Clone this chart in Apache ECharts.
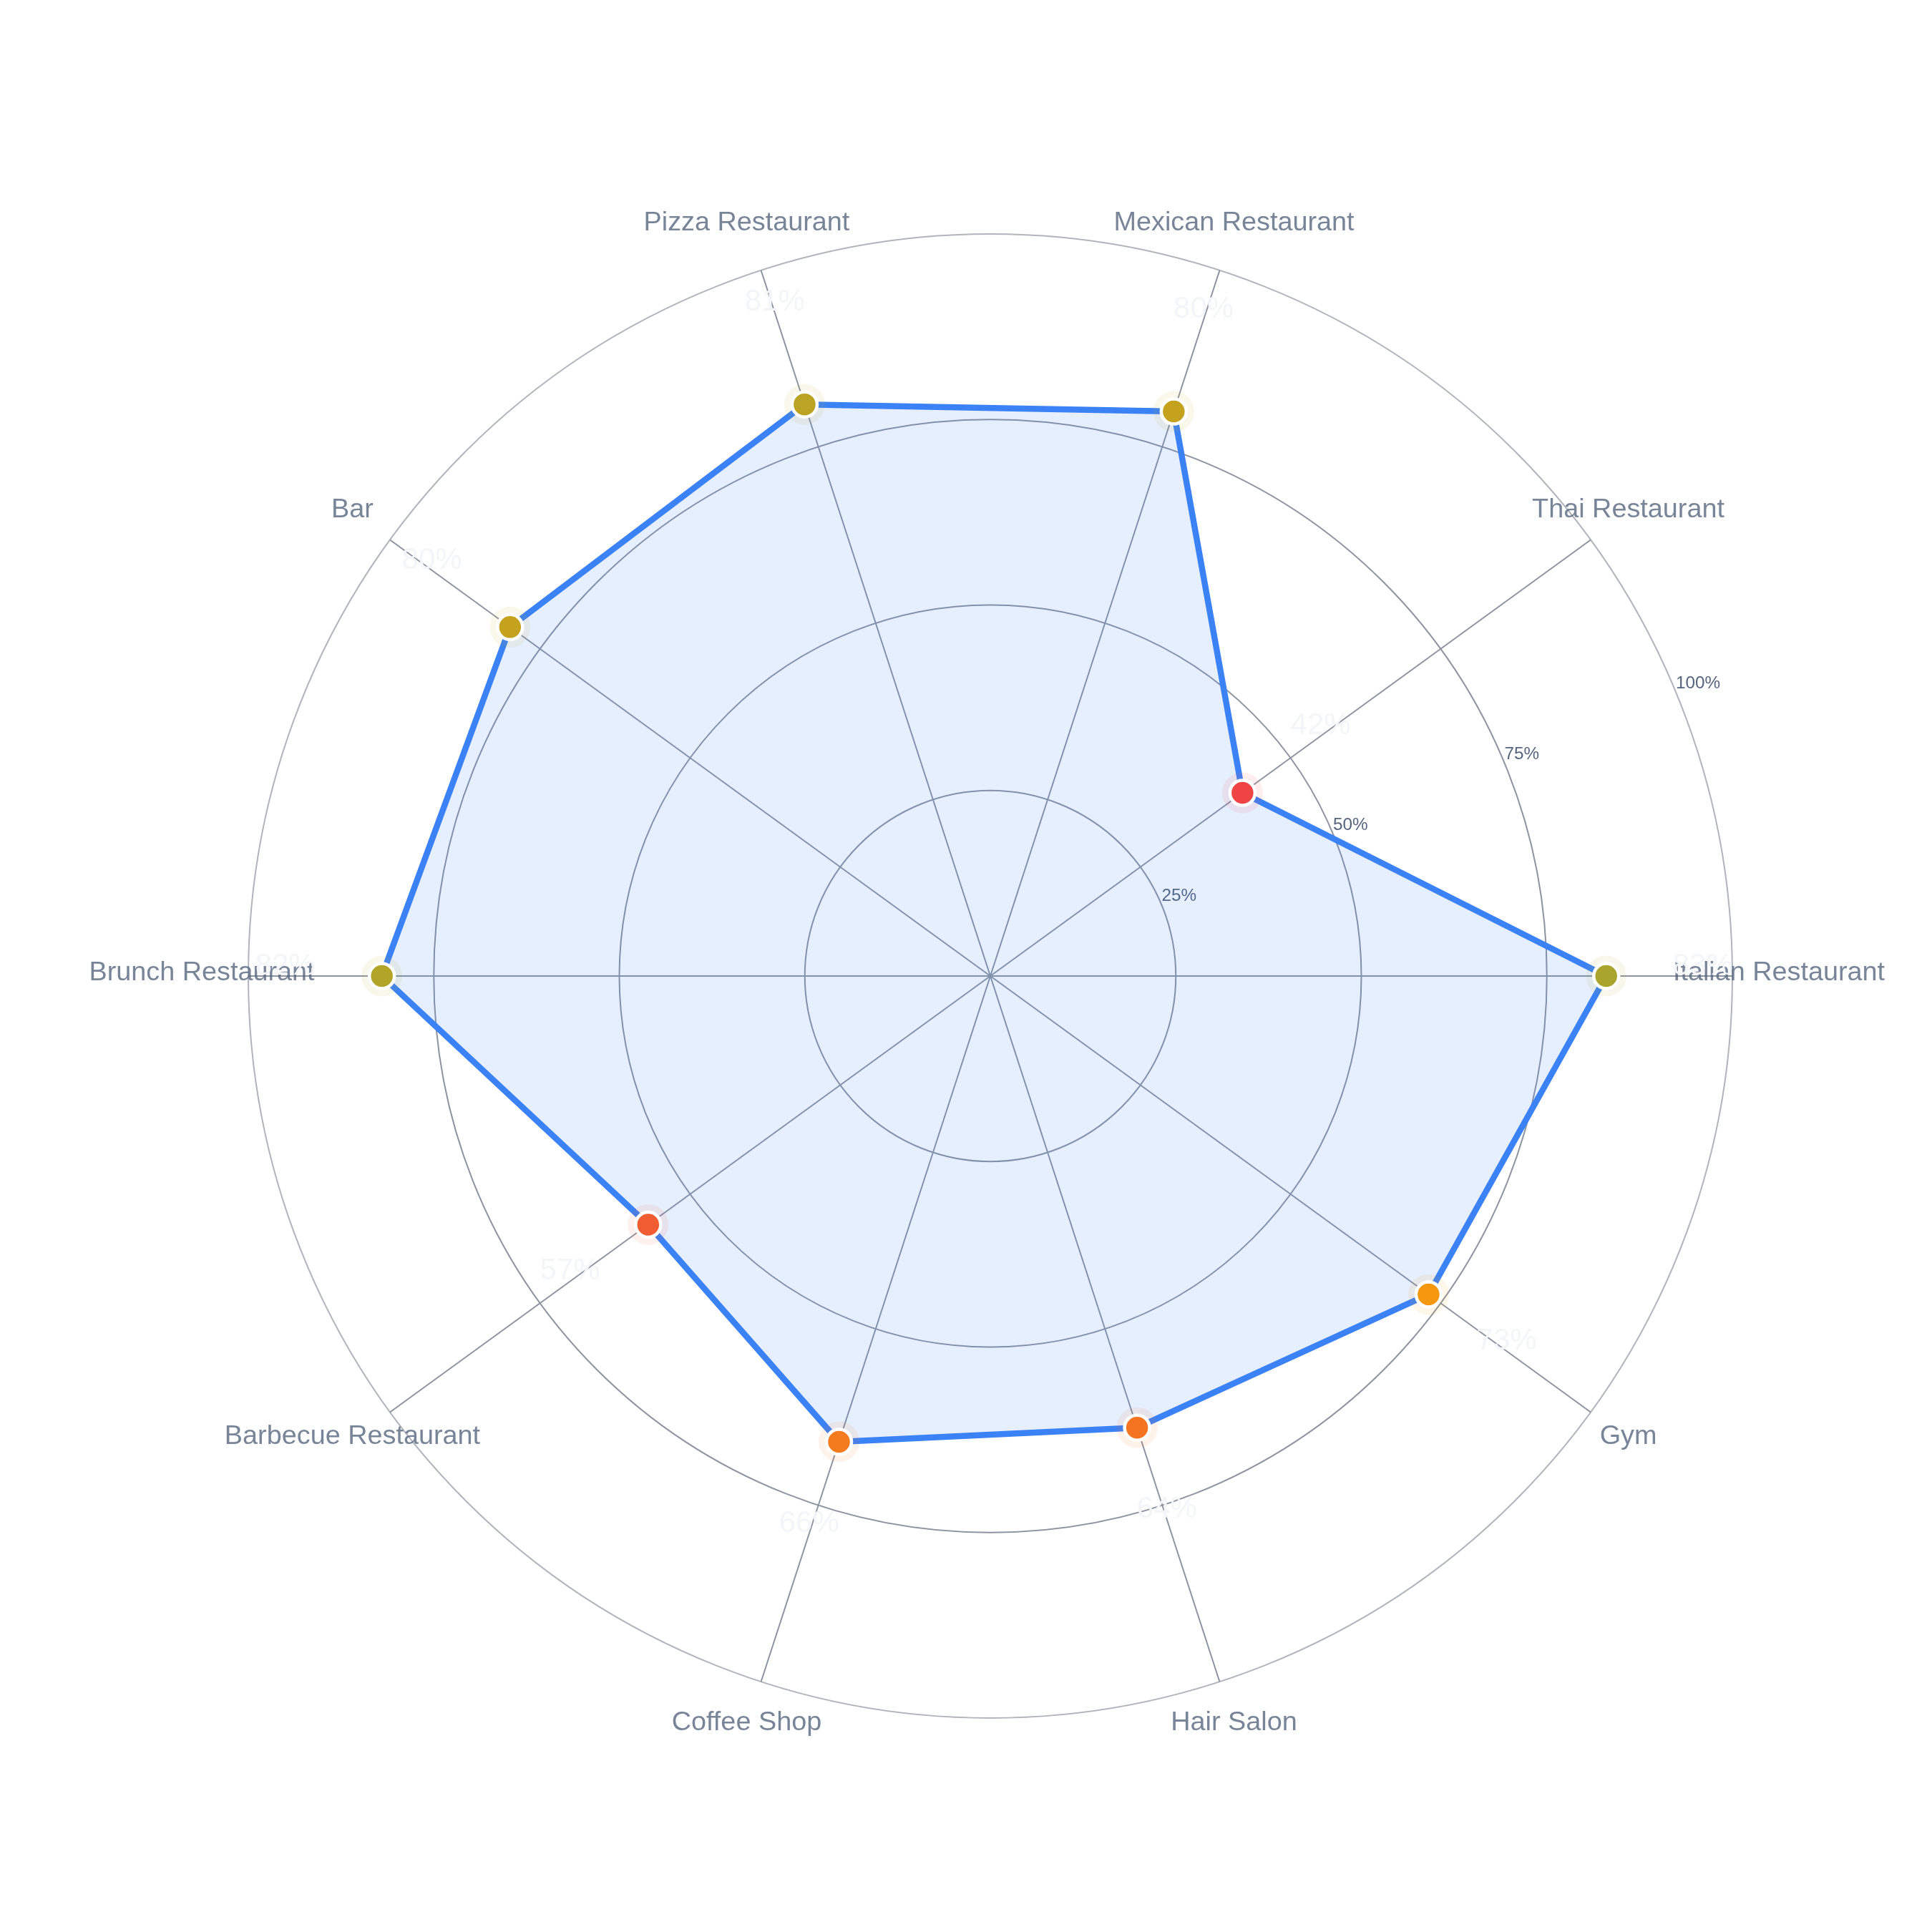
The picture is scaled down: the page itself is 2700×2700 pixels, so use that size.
<!DOCTYPE html>
<html>
<head>
<meta charset="utf-8">
<script src="https://cdn.jsdelivr.net/npm/echarts@6/dist/echarts.min.js"></script>
<style>
  html, body { margin: 0; padding: 0; background: #ffffff; }
  #chart { width: 2700px; height: 2700px; }
</style>
</head>
<body>
<div id="chart"></div>
<script>
// ---- data ----
const categories = ['Italian Restaurant', 'Thai Restaurant', 'Mexican Restaurant', 'Pizza Restaurant', 'Bar',
                    'Brunch Restaurant', 'Barbecue Restaurant', 'Coffee Shop', 'Hair Salon', 'Gym'];
const values = [83, 42, 80, 81, 80, 82, 57, 66, 64, 73];
const ringTicks = [25, 50, 75, 100];
const ringTickLabels = ['25%', '50%', '75%', '100%'];

// ---- styles ----
const FONT = '"Liberation Sans", Arial, Helvetica, sans-serif';
const CENTER = [1384, 1364];
const RADIUS = 1037;
const STEP = 360 / categories.length;
const NAME_GAP = 65;
const NAME_LIFT = -4;
const VALUE_GAP = 135;
const VALUE_LIFT = -14;
const LABEL_COLOR = '#56657e';
const scaleColors = ['#ef4444', '#ef4444', '#ef4a40', '#f05439', '#f2672a', '#f47720', '#f48c16',
                     '#f59e0b', '#c4a21e', '#96a637', '#6eb24b', '#46bc55', '#22c55e'];

function angleOf(i) { return i * STEP; }
function radialOffset(i, d, lift) {
  const a = angleOf(i) * Math.PI / 180;
  return [Math.cos(a) * d, -Math.sin(a) * d + lift];
}

const chart = echarts.init(document.getElementById('chart'), null, { renderer: 'canvas' });

const lineData = values.map((v, i) => [v, angleOf(i)]).concat([[values[0], 360]]);
const pointData = values.map((v, i) => ({
  value: [v, angleOf(i)],
  label: { offset: radialOffset(i, VALUE_GAP, VALUE_LIFT) }
}));
const nameData = categories.map((c, i) => ({
  value: [ringTicks[ringTicks.length - 1], angleOf(i)],
  label: { offset: radialOffset(i, NAME_GAP, NAME_LIFT) }
}));

const option = {
  backgroundColor: '#ffffff',
  animation: false,
  polar: [
    { center: CENTER, radius: RADIUS },
    { center: CENTER, radius: RADIUS }
  ],
  angleAxis: [
    {
      polarIndex: 0,
      type: 'value',
      min: 0,
      max: 360,
      interval: STEP,
      startAngle: 0,
      clockwise: false,
      axisLine: { show: false },
      axisTick: { show: false },
      axisLabel: { show: false },
      splitLine: { show: true, lineStyle: { color: '#8d94a1', width: 2 } }
    },
    {
      polarIndex: 1,
      type: 'value',
      min: 0,
      max: 360,
      startAngle: 22.5,
      clockwise: false,
      show: false
    }
  ],
  radiusAxis: [
    {
      polarIndex: 0,
      type: 'value',
      min: 0,
      max: 100,
      interval: 25,
      axisLine: { show: false },
      axisTick: { show: false },
      axisLabel: { show: false },
      splitLine: {
        show: true,
        lineStyle: { color: ['#8d94a1', '#8d94a1', '#8d94a1', '#8d94a1', '#b0b4bc'], width: 2 }
      }
    },
    {
      polarIndex: 1,
      type: 'value',
      min: 0,
      max: 100,
      interval: 25,
      axisLine: { show: false },
      axisTick: { show: false },
      splitLine: { show: false },
      axisLabel: {
        show: true,
        margin: 0,
        align: 'left',
        verticalAlign: 'bottom',
        color: LABEL_COLOR,
        fontFamily: FONT,
        fontSize: 24.3,
        formatter: function (v) {
          const k = ringTicks.indexOf(v);
          return k >= 0 ? ringTickLabels[k] : '';
        }
      }
    }
  ],
  visualMap: {
    show: false,
    type: 'continuous',
    seriesIndex: [2, 3],
    dimension: 0,
    min: 40,
    max: 100,
    inRange: { color: scaleColors }
  },
  series: [
    {
      type: 'line',
      coordinateSystem: 'polar',
      polarIndex: 0,
      data: lineData,
      symbol: 'none',
      smooth: false,
      clip: false,
      lineStyle: { color: '#3b82f6', width: 8.5 },
      areaStyle: { color: 'rgba(59,130,246,0.13)', opacity: 1 },
      z: 3,
      silent: true
    },
    {
      type: 'scatter',
      coordinateSystem: 'polar',
      polarIndex: 0,
      data: nameData,
      symbolSize: 0,
      silent: true,
      z: 4,
      label: {
        show: true,
        position: 'inside',
        color: LABEL_COLOR,
        textBorderWidth: 0,
        textBorderColor: 'transparent',
        fontFamily: FONT,
        fontSize: 37.8,
        formatter: function (p) { return categories[p.dataIndex]; }
      }
    },
    {
      type: 'scatter',
      coordinateSystem: 'polar',
      polarIndex: 0,
      data: values.map((v, i) => [v, angleOf(i)]),
      symbolSize: 57,
      silent: true,
      z: 5,
      itemStyle: { opacity: 0.09 }
    },
    {
      type: 'scatter',
      coordinateSystem: 'polar',
      polarIndex: 0,
      data: pointData,
      symbolSize: 35,
      silent: true,
      z: 6,
      itemStyle: { borderColor: '#ffffff', borderWidth: 4.5, opacity: 1 },
      label: {
        show: true,
        position: 'inside',
        color: '#f3f5f8',
        textBorderWidth: 0,
        textBorderColor: 'transparent',
        fontFamily: FONT,
        fontSize: 42,
        formatter: function (p) { return values[p.dataIndex] + '%'; }
      }
    }
  ]
};

chart.setOption(option);
</script>
</body>
</html>
